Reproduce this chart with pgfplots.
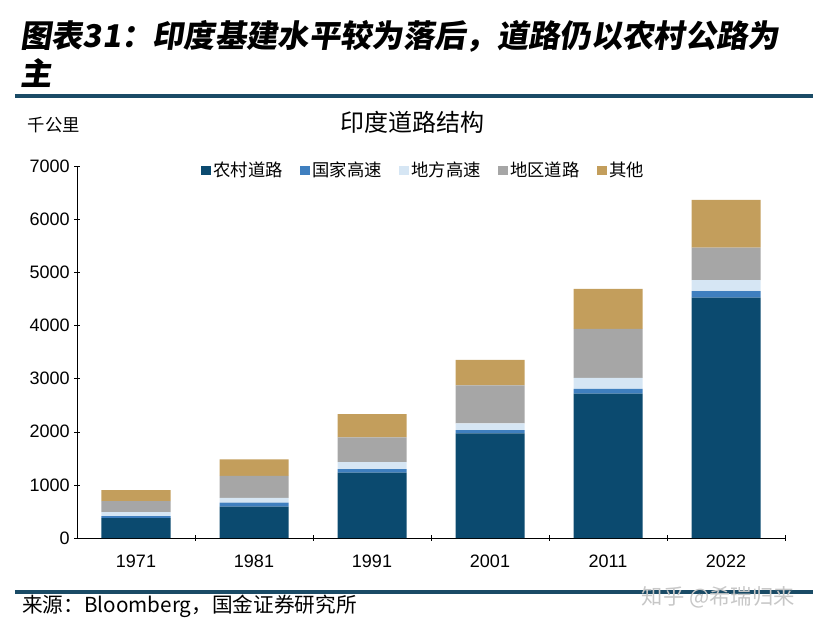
\documentclass[border=0pt]{standalone}
\usepackage{pgfplots}
\pgfplotsset{compat=1.18}
\usepackage{fontspec}
\setmainfont{Liberation Sans}
\newfontfamily\cjk{Noto Sans CJK SC}
\newfontfamily\cjkt[FakeSlant=0.15]{Noto Sans CJK SC}
\definecolor{rural}{HTML}{0B4A6F}
\definecolor{nh}{HTML}{3F7FBF}
\definecolor{sh}{HTML}{D6E6F4}
\definecolor{dist}{HTML}{A6A6A6}
\definecolor{oth}{HTML}{C39E5C}
\definecolor{rule}{HTML}{1A4B66}
\pgfplotstableread{
x rural nh sh dist oth
0 376 38 75 207 207
1 589 75 89 414 314
2 1229 69 132 465 438
3 1970 62 126 715 477
4 2716 88 207 922 753
5 4523 125 207 608 898
}\roads
\begin{document}
\begin{tikzpicture}
\begin{axis}[
  at={(0pt,0pt)}, anchor=south west,
  scale only axis, width=531pt, height=279pt,
  ybar stacked, bar width=51.75pt,
  xmin=-0.5, xmax=5.5, ymin=0, ymax=7000,
  xtick={0,...,5}, xticklabels={1971,1981,1991,2001,2011,2022},
  major x tick style={draw=none},
  minor xtick={0.5,1.5,2.5,3.5,4.5,5.5},
  minor x tick style={black}, xtick align=inside, minor tick length=4pt,
  ytick={0,1000,...,7000}, ytick align=outside, major tick length=4pt,
  ytick style={black},
  axis x line=bottom, axis y line=left,
  axis line style={-, black},
  /pgf/number format/assume math mode=true,
  /pgf/number format/1000 sep={},
  tick label style={font=\fontsize{13.5pt}{15pt}\selectfont},
  x tick label style={yshift=-7pt},
  legend columns=5,
  legend style={at={(0.49,0.988)}, anchor=center, draw=none, fill=none,
    font=\fontsize{13pt}{15pt}\selectfont\cjk,
    /tikz/every even column/.append style={column sep=11pt}},
  legend image code/.code={\fill[#1] (0pt,-3.6pt) rectangle (7.2pt,3.6pt);},
]
\addplot[fill=rural,draw=none] table[x=x,y=rural] {\roads};
\addplot[fill=nh,draw=none] table[x=x,y=nh] {\roads};
\addplot[fill=sh,draw=none] table[x=x,y=sh] {\roads};
\addplot[fill=dist,draw=none] table[x=x,y=dist] {\roads};
\addplot[fill=oth,draw=none] table[x=x,y=oth] {\roads};
\legend{农村道路,国家高速,地方高速,地区道路,其他}
\end{axis}
\begin{scope}[x=0.75pt,y=0.75pt,shift={(-77,-88)}]
\useasboundingbox (0,0) rectangle (813,626);
\node[anchor=west,inner sep=0] at (20,590) {\fontsize{23.5pt}{26pt}\selectfont\cjkt\bfseries 图表31：印度基建水平较为落后，道路仍以农村公路为};
\node[anchor=west,inner sep=0] at (20,553) {\fontsize{23.5pt}{26pt}\selectfont\cjkt\bfseries 主};
\draw[rule,line width=2.4pt] (15,530) -- (813,530);
\draw[rule,line width=2.4pt] (15,34) -- (813,34);
\node[anchor=west,inner sep=0] at (22,20) {\fontsize{15.5pt}{18pt}\selectfont\cjk 来源：Bloomberg，国金证券研究所};
\node[anchor=east,inner sep=0] at (795,29) {\fontsize{16pt}{18pt}\selectfont\cjk\color{black!22} 知乎 @希瑞归来};
\node[inner sep=0] at (54,501) {\fontsize{13pt}{15pt}\selectfont\cjk 千公里};
\node[inner sep=0] at (412,504) {\fontsize{18pt}{20pt}\selectfont\cjk 印度道路结构};
\end{scope}
\end{tikzpicture}
\end{document}
